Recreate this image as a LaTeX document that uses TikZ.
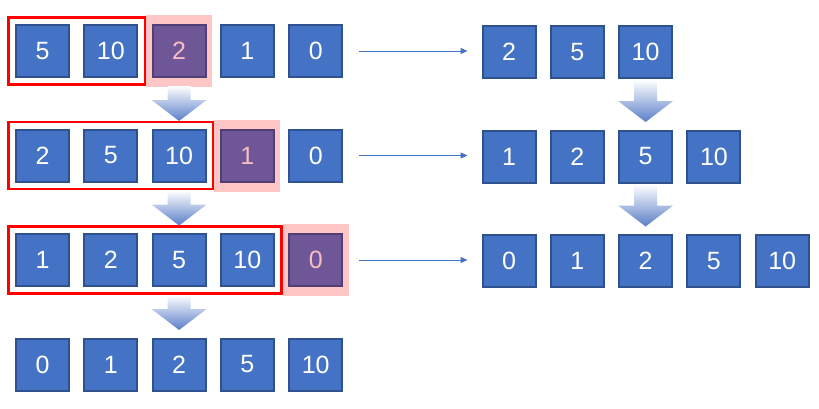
\documentclass[tikz,border=0pt]{standalone}
\usepackage{fontspec}
\setmainfont{Liberation Sans}
\usetikzlibrary{arrows.meta,fit,backgrounds}
\definecolor{boxblue}{HTML}{4472C4}
\definecolor{boxedge}{HTML}{2F528F}
\definecolor{hlfill}{HTML}{6F5797}
\definecolor{hledge}{HTML}{4F3F74}
\definecolor{hltext}{HTML}{F8BCC6}
\definecolor{pinkbg}{HTML}{FFC6C6}
\definecolor{arrowblue}{HTML}{5A7EC8}
\tikzset{
  cell/.style={draw=boxedge, line width=2pt, fill=boxblue, minimum width=53pt, minimum height=52pt, inner sep=0pt, text=white, font=\fontsize{25}{25}\selectfont},
  hlcell/.style={cell, fill=hlfill, draw=hledge, text=hltext},
  sortedbox/.style={draw=red, line width=2.5pt, inner xsep=6.5pt, inner ysep=6.5pt},
  pinkbox/.style={fill=pinkbg, draw=none, inner xsep=5.5pt, inner ysep=9pt},
  rowarrow/.style={draw=boxblue, line width=1pt, -{Triangle[length=7pt,width=6pt]}, shorten <=16pt, shorten >=14pt}
}
\newcommand{\blockarrow}[3]{%
  \shade[top color=white, bottom color=arrowblue]
    ({#1-11.5},#2) -- ({#1+11.5},#2) -- ({#1+11.5},{#3-21}) -- ({#1+27.5},{#3-21})
    -- (#1,#3) -- ({#1-27.5},{#3-21}) -- ({#1-11.5},{#3-21}) -- cycle;}
\begin{document}
\begin{tikzpicture}[x=1pt,y=-1pt]
\useasboundingbox (0,0) rectangle (819,408);
% row 1 left
\node[cell] (a0) at (42.5,51) {5};
\node[cell] (a1) at (110.8,51) {10};
\node[hlcell] (a2) at (179.1,51) {2};
\node[cell] (a3) at (247.4,51) {1};
\node[cell] (a4) at (315.7,51) {0};
% row 2 left
\node[cell] (b0) at (42.5,155.5) {2};
\node[cell] (b1) at (110.8,155.5) {5};
\node[cell] (b2) at (179.1,155.5) {10};
\node[hlcell] (b3) at (247.4,155.5) {1};
\node[cell] (b4) at (315.7,155.5) {0};
% row 3 left
\node[cell] (c0) at (42.5,260) {1};
\node[cell] (c1) at (110.8,260) {2};
\node[cell] (c2) at (179.1,260) {5};
\node[cell] (c3) at (247.4,260) {10};
\node[hlcell] (c4) at (315.7,260) {0};
% row 4 left
\node[cell] (d0) at (42.5,364.5) {0};
\node[cell] (d1) at (110.8,364.5) {1};
\node[cell] (d2) at (179.1,364.5) {2};
\node[cell] (d3) at (247.4,364.5) {5};
\node[cell] (d4) at (315.7,364.5) {10};
% right rows
\node[cell] (p0) at (509,52) {2};
\node[cell] (p1) at (577.3,52) {5};
\node[cell] (p2) at (645.6,52) {10};
\node[cell] (q0) at (509,156.5) {1};
\node[cell] (q1) at (577.3,156.5) {2};
\node[cell] (q2) at (645.6,156.5) {5};
\node[cell] (q3) at (713.9,156.5) {10};
\node[cell] (r0) at (509,261) {0};
\node[cell] (r1) at (577.3,261) {1};
\node[cell] (r2) at (645.6,261) {2};
\node[cell] (r3) at (713.9,261) {5};
\node[cell] (r4) at (782.2,261) {10};
% highlights
\begin{scope}[on background layer]
\node[pinkbox, fit=(a2)] (pa) {};
\node[pinkbox, fit=(b3)] (pb) {};
\node[pinkbox, fit=(c4)] (pc) {};
\end{scope}
\node[sortedbox, fit=(a0)(a1)] (sa) {};
\node[sortedbox, fit=(b0)(b2)] (sb) {};
\node[sortedbox, fit=(c0)(c3)] (sc) {};
% row arrows
\draw[rowarrow] (a4.east) -- (p0.west |- a4.east);
\draw[rowarrow] (b4.east) -- (q0.west |- b4.east);
\draw[rowarrow] (c4.east) -- (r0.west |- c4.east);
% block arrows
\blockarrow{179.1}{86}{121}
\blockarrow{179.1}{190.5}{225.5}
\blockarrow{179.1}{295}{330}
\blockarrow{645.6}{80}{122}
\blockarrow{645.6}{184.5}{226.5}
\end{tikzpicture}
\end{document}
